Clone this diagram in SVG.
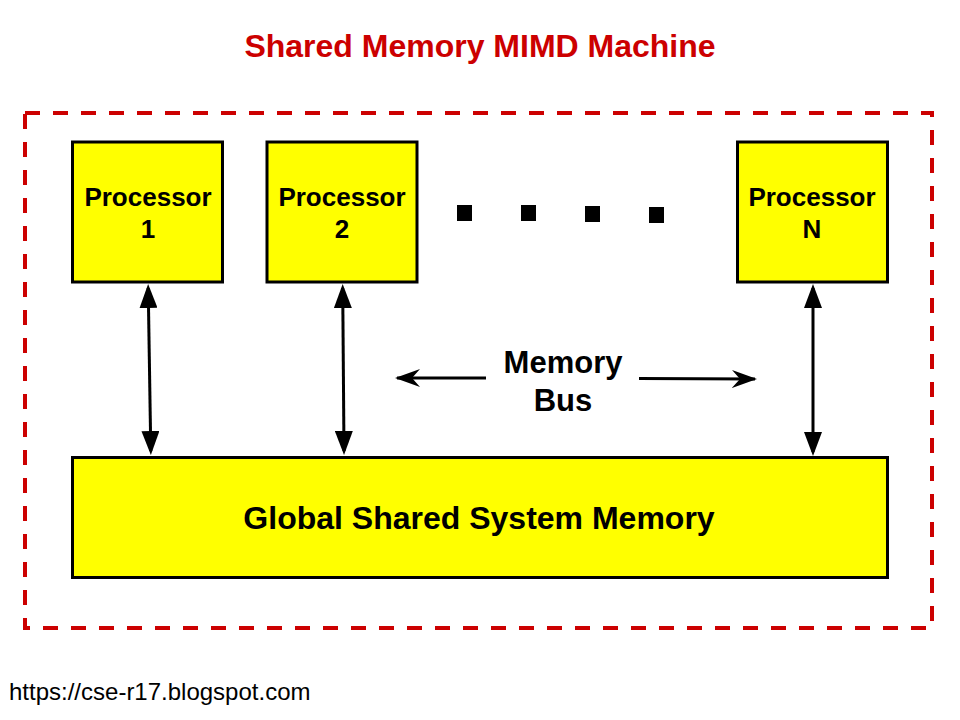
<svg xmlns="http://www.w3.org/2000/svg" width="960" height="720" viewBox="0 0 960 720">
  <style>
    .box { fill: #ffff00; stroke: #000000; stroke-width: 3; }
    .lbl { font-family: "Liberation Sans", Arial, sans-serif; font-weight: bold; fill: #000000; text-anchor: middle; }
    .conn { stroke: #000000; stroke-width: 3; fill: none; }
    .dot { fill: #000000; }
  </style>
  <defs>
    <marker id="tri" markerUnits="userSpaceOnUse" markerWidth="24" markerHeight="18" refX="20" refY="9" orient="auto-start-reverse" viewBox="0 0 24 18">
      <path d="M0,0 L24,9 L0,18 Z" fill="#000000"/>
    </marker>
    <marker id="barb" markerUnits="userSpaceOnUse" markerWidth="26" markerHeight="20" refX="23" refY="10" orient="auto" viewBox="0 0 26 20">
      <path d="M0,1 L25,10 L0,19 L8,10 Z" fill="#000000"/>
    </marker>
  </defs>
  <rect width="960" height="720" fill="#ffffff"/>

  <text id="title" x="480" y="57" font-family="Liberation Sans, Arial, sans-serif" font-weight="bold" font-size="32" fill="#cc0000" text-anchor="middle">Shared Memory MIMD Machine</text>

  <rect id="frame" x="25" y="113" width="907" height="515" fill="none" stroke="#cc0000" stroke-width="4" stroke-dasharray="15 13"/>

  <g id="proc1">
    <rect class="box" x="72.5" y="142" width="150" height="140"/>
    <text class="lbl" font-size="26" x="148" y="206">Processor</text>
    <text class="lbl" font-size="26" x="148" y="238">1</text>
  </g>
  <g id="proc2">
    <rect class="box" x="267" y="142" width="150" height="140"/>
    <text class="lbl" font-size="26" x="342" y="206">Processor</text>
    <text class="lbl" font-size="26" x="342" y="238">2</text>
  </g>
  <g id="procN">
    <rect class="box" x="737.5" y="142" width="150" height="140"/>
    <text class="lbl" font-size="26" x="812" y="206">Processor</text>
    <text class="lbl" font-size="26" x="812" y="238">N</text>
  </g>
  <g id="ellipsis">
    <rect class="dot" x="457" y="205" width="15" height="16"/>
    <rect class="dot" x="521" y="205" width="15" height="16"/>
    <rect class="dot" x="585" y="206" width="15" height="16"/>
    <rect class="dot" x="649" y="207" width="15" height="16"/>
  </g>
  <g id="memory">
    <rect class="box" x="72.5" y="457.5" width="815" height="120"/>
    <text class="lbl" font-size="32" x="479" y="529">Global Shared System Memory</text>
  </g>
  <g id="bus-label">
    <text class="lbl" font-size="31" x="563" y="373">Memory</text>
    <text class="lbl" font-size="31" x="563" y="411">Bus</text>
  </g>

  <g id="connectors">
    <line class="conn" x1="148.2" y1="288" x2="150.8" y2="451" marker-start="url(#tri)" marker-end="url(#tri)"/>
    <line class="conn" x1="342.7" y1="288" x2="344" y2="451" marker-start="url(#tri)" marker-end="url(#tri)"/>
    <line class="conn" x1="813" y1="288" x2="813" y2="452" marker-start="url(#tri)" marker-end="url(#tri)"/>
    <line class="conn" x1="486" y1="378" x2="397" y2="378" marker-end="url(#barb)"/>
    <line class="conn" x1="639" y1="378.5" x2="755" y2="379" marker-end="url(#barb)"/>
  </g>

  <text id="footer" x="9" y="700" font-family="Liberation Sans, Arial, sans-serif" font-size="24" fill="#000000">https://cse-r17.blogspot.com</text>
</svg>
